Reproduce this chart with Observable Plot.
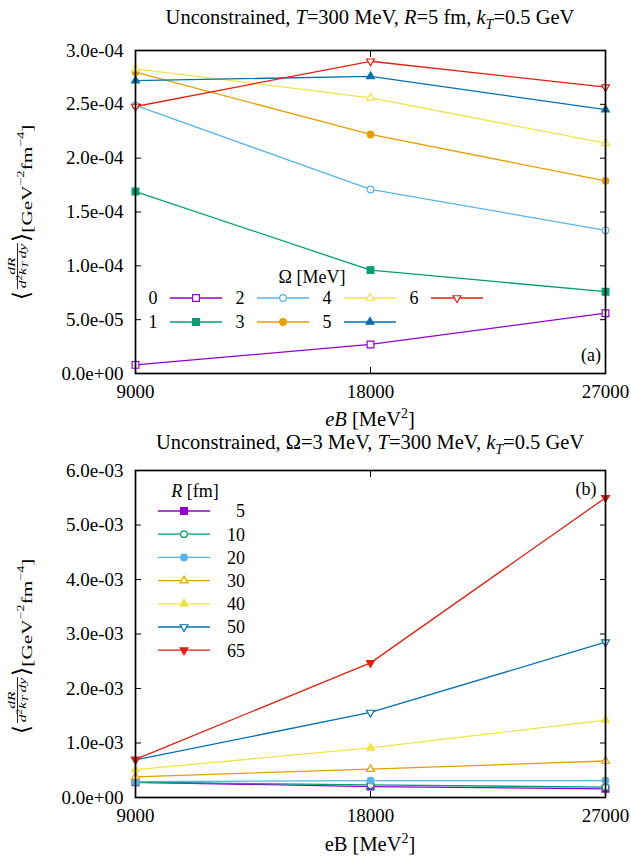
<!DOCTYPE html>
<html>
<head>
<meta charset="utf-8">
<script src="https://cdn.jsdelivr.net/npm/d3@7"></script>
<script src="https://cdn.jsdelivr.net/npm/@observablehq/plot@0.6"></script>
<style>
  body { margin: 0; background: #fff; }
  #wrap { position: relative; width: 631px; height: 856px; font-family: "Liberation Serif", serif; color: #000; overflow: hidden; }
  .t { position: absolute; white-space: nowrap; font-size: 20.5px; line-height: 22px; height: 22px; transform: translateX(-50%); }
  .panel { position: absolute; left: 0; }
  #overlay { position: absolute; left: 0; top: 0; pointer-events: none; }
  sub { font-size: 14px; line-height: 0; font-style: italic; }
  sup { font-size: 14px; line-height: 0; }
</style>
</head>
<body>
<div id="wrap">
  <div class="t" style="left:370px; top:6px;">Unconstrained, <i>T</i>=300 MeV, <i>R</i>=5 fm, <i>k</i><sub>T</sub>=0.5 GeV</div>
  <div class="t" style="left:370px; top:408px;"><i>eB</i> [MeV<sup>2</sup>]</div>
  <div class="t" style="left:370px; top:431px;">Unconstrained, Ω=3 MeV, <i>T</i>=300 MeV, <i>k</i><sub>T</sub>=0.5 GeV</div>
  <div class="t" style="left:370px; top:833px;">eB [MeV<sup>2</sup>]</div>
</div>
<script>
// ---------- data ----------
const eB = [9000, 18000, 27000];
const xTickLabels = ["9000", "18000", "27000"];

// panel (a): Omega series [MeV]
const omegaNames = ["0", "1", "2", "3", "4", "5", "6"];
const omega0 = [0.8e-5, 2.7e-5, 5.6e-5];
const omega1 = [1.69e-4, 0.96e-4, 0.76e-4];
const omega2 = [2.49e-4, 1.71e-4, 1.33e-4];
const omega3 = [2.80e-4, 2.22e-4, 1.79e-4];
const omega4 = [2.83e-4, 2.56e-4, 2.14e-4];
const omega5 = [2.72e-4, 2.76e-4, 2.45e-4];
const omega6 = [2.48e-4, 2.90e-4, 2.66e-4];

// panel (b): R series [fm]
const radiusNames = ["5", "10", "20", "30", "40", "50", "65"];
const r5  = [0.28e-3, 0.20e-3, 0.16e-3];
const r10 = [0.28e-3, 0.23e-3, 0.19e-3];
const r20 = [0.29e-3, 0.31e-3, 0.31e-3];
const r30 = [0.38e-3, 0.52e-3, 0.67e-3];
const r40 = [0.51e-3, 0.91e-3, 1.42e-3];
const r50 = [0.69e-3, 1.56e-3, 2.85e-3];
const r65 = [0.70e-3, 2.47e-3, 5.50e-3];

const topYTicks = [0, 5e-5, 1e-4, 1.5e-4, 2e-4, 2.5e-4, 3e-4];
const topYTickLabels = ["0.0e+00", "5.0e-05", "1.0e-04", "1.5e-04", "2.0e-04", "2.5e-04", "3.0e-04"];
const botYTicks = [0, 1e-3, 2e-3, 3e-3, 4e-3, 5e-3, 6e-3];
const botYTickLabels = ["0.0e+00", "1.0e-03", "2.0e-03", "3.0e-03", "4.0e-03", "5.0e-03", "6.0e-03"];

// ---------- styles ----------
const colors = ["#9400d3", "#009e73", "#56b4e9", "#e69f00", "#f0e442", "#0072b2", "#e51e10"];
const topSymbols = ["square", "square", "circle", "circle", "triangle", "triangle", "triangle"];
const topFilled  = [false, true, false, true, false, true, false];
const topRotate  = [0, 0, 0, 0, 0, 0, 180];
const botSymbols = ["square", "circle", "circle", "triangle", "triangle", "triangle", "triangle"];
const botFilled  = [true, false, true, false, true, false, true];
const botRotate  = [0, 0, 0, 0, 0, 180, 180];
const symR = {square: 3.8, circle: 3.3, triangle: 2.9};

const W = 631;
const font = "Liberation Serif";
const tickFont = 19;

function panel(series, names, yTicks, yTickLabels, yDomain, symbols, filled, rot, height, marginTop, marginBottom) {
  const xl = new Map(eB.map((d, i) => [d, xTickLabels[i]]));
  const yl = new Map(yTicks.map((d, i) => [d, yTickLabels[i]]));
  const marks = [
    Plot.axisX({anchor: "bottom", ticks: eB, tickSize: 0, tickPadding: 11, fontSize: tickFont, tickFormat: d => xl.get(d), label: null}),
    Plot.axisX({anchor: "bottom", ticks: eB, tickSize: -6, tickFormat: () => "", label: null}),
    Plot.axisX({anchor: "top", ticks: eB, tickSize: -6, tickFormat: () => "", label: null}),
    Plot.axisY({anchor: "left", ticks: yTicks, tickSize: 0, tickPadding: 12, fontSize: tickFont, tickFormat: d => yl.get(d), label: null}),
    Plot.axisY({anchor: "left", ticks: yTicks, tickSize: -6, tickFormat: () => "", label: null}),
    Plot.axisY({anchor: "right", ticks: yTicks, tickSize: -6, tickFormat: () => "", label: null})
  ];
  series.forEach((vals, i) => {
    const rows = eB.map((x, j) => ({x, y: vals[j], name: names[i]}));
    marks.push(Plot.line(rows, {x: "x", y: "y", stroke: colors[i], strokeWidth: 1.3}));
    marks.push(Plot.dot(rows, {
      x: "x", y: "y", symbol: symbols[i], r: symR[symbols[i]],
      stroke: colors[i], fill: filled[i] ? colors[i] : "white",
      strokeWidth: 1.2, rotate: rot[i]
    }));
  });
  marks.push(Plot.frame({stroke: "black", strokeWidth: 1.7}));
  return Plot.plot({
    width: W, height, marginLeft: 135, marginRight: 26, marginTop, marginBottom,
    style: {fontFamily: font, fontSize: "19px", color: "black", background: "transparent"},
    x: {domain: [eB[0], eB[eB.length - 1]]},
    y: {domain: yDomain},
    marks
  });
}

const wrap = document.getElementById("wrap");

const p1 = panel([omega0, omega1, omega2, omega3, omega4, omega5, omega6], omegaNames,
  topYTicks, topYTickLabels, [0, 3e-4], topSymbols, topFilled, topRotate, 383, 20, 40);
p1.classList.add("panel"); p1.style.top = "30px";
wrap.appendChild(p1);

const p2 = panel([r5, r10, r20, r30, r40, r50, r65], radiusNames,
  botYTicks, botYTickLabels, [0, 6e-3], botSymbols, botFilled, botRotate, 382, 15, 40);
p2.classList.add("panel"); p2.style.top = "455px";
wrap.appendChild(p2);

// ---------- overlay: legends, panel tags, y labels ----------
const svg = d3.select(wrap).append("svg").attr("id", "overlay")
  .attr("width", W).attr("height", 856)
  .style("font-family", font).style("font-size", "18px");

function symbolPath(type, r) {
  const map = {square: d3.symbolSquare, circle: d3.symbolCircle, triangle: d3.symbolTriangle};
  return d3.symbol(map[type], Math.PI * r * r)();
}
function legendItem(x0, x1, y, i, symbols, filled, rot) {
  svg.append("line").attr("x1", x0).attr("x2", x1).attr("y1", y).attr("y2", y)
    .attr("stroke", colors[i]).attr("stroke-width", 1.3);
  svg.append("path").attr("d", symbolPath(symbols[i], symR[symbols[i]]))
    .attr("transform", `translate(${(x0 + x1) / 2},${y}) rotate(${rot[i]})`)
    .attr("stroke", colors[i]).attr("stroke-width", 1.2)
    .attr("fill", filled[i] ? colors[i] : "white");
}

// legend (a): 4 columns x 2 rows
svg.append("text").attr("x", 312).attr("y", 283).attr("text-anchor", "middle").text("Ω [MeV]");
omegaNames.forEach((n, i) => {
  const col = Math.floor(i / 2), row = i % 2;
  const y = 298 + row * 24;
  const lx = 153 + col * 87;
  svg.append("text").attr("x", lx).attr("y", y).attr("dy", "0.35em").attr("text-anchor", "middle").text(n);
  legendItem(lx + 17, lx + 69, y, i, topSymbols, topFilled, topRotate);
});

// legend (b): single column
const lb = svg.append("text").attr("x", 195).attr("y", 497).attr("text-anchor", "middle");
lb.append("tspan").attr("font-style", "italic").text("R");
lb.append("tspan").text(" [fm]");
radiusNames.forEach((n, i) => {
  const y = 511 + i * 23.2;
  legendItem(158, 210, y, i, botSymbols, botFilled, botRotate);
  svg.append("text").attr("x", 245).attr("y", y).attr("dy", "0.35em").attr("text-anchor", "end").text(n);
});

// panel tags
svg.append("text").attr("x", 591).attr("y", 355).attr("dy", "0.35em").attr("text-anchor", "middle").text("(a)");
svg.append("text").attr("x", 586).attr("y", 489).attr("dy", "0.35em").attr("text-anchor", "middle").text("(b)");

// y-axis labels: rotated; fraction and unit stretched along the reading direction,
// angle brackets kept unstretched so they stay thin
function yLabel(cx, cy, targetLen) {
  const outer = svg.append("g").attr("transform", `translate(${cx},${cy}) rotate(-90)`);
  const F = 15, f = 11;
  const bracket = t => outer.append("text").attr("font-size", 23).attr("y", -3)
    .attr("font-family", "'DejaVu Sans'").attr("font-weight", 200).text(t);
  const lt = bracket("⟨");
  const wl = lt.node().getComputedTextLength();
  const fracG = outer.append("g");
  const num = fracG.append("text").attr("font-size", f).attr("font-style", "italic").attr("text-anchor", "middle").attr("y", -17.5).text("dR");
  const den = fracG.append("text").attr("font-size", f).attr("font-style", "italic").attr("text-anchor", "middle").attr("y", -6);
  den.append("tspan").text("d");
  den.append("tspan").attr("font-size", 8).attr("font-style", "normal").attr("dy", -4).text("2");
  den.append("tspan").attr("dy", 4).text("k");
  den.append("tspan").attr("font-size", 8).attr("dy", 2).text("T");
  den.append("tspan").attr("dy", -2).text("\u2009dy");
  const wf = Math.max(num.node().getComputedTextLength(), den.node().getComputedTextLength()) + 3;
  fracG.append("line").attr("x1", -wf / 2 + 1).attr("x2", wf / 2 - 1).attr("y1", -14.5).attr("y2", -14.5)
    .attr("stroke", "black").attr("stroke-width", 0.7);
  const rt = bracket("⟩");
  const wr = rt.node().getComputedTextLength();
  const unG = outer.append("g");
  const un = unG.append("text").attr("font-size", F);
  un.append("tspan").text("[GeV");
  un.append("tspan").attr("font-size", 10).attr("dy", -8).text("−2");
  un.append("tspan").attr("dy", 8).text("fm");
  un.append("tspan").attr("font-size", 10).attr("dy", -8).text("−4");
  un.append("tspan").attr("dy", 8).text("]");
  const wu = un.node().getComputedTextLength();
  const s = (targetLen - wl - wr) / (wf + wu);
  let u = -targetLen / 2;
  lt.attr("x", u); u += wl;
  fracG.attr("transform", `translate(${u + s * wf / 2},0) scale(${s},1)`); u += s * wf;
  rt.attr("x", u); u += wr;
  unG.attr("transform", `translate(${u},0) scale(${s},1)`);
}
yLabel(32, 212, 175);
yLabel(32, 646, 175);
</script>
</body>
</html>
